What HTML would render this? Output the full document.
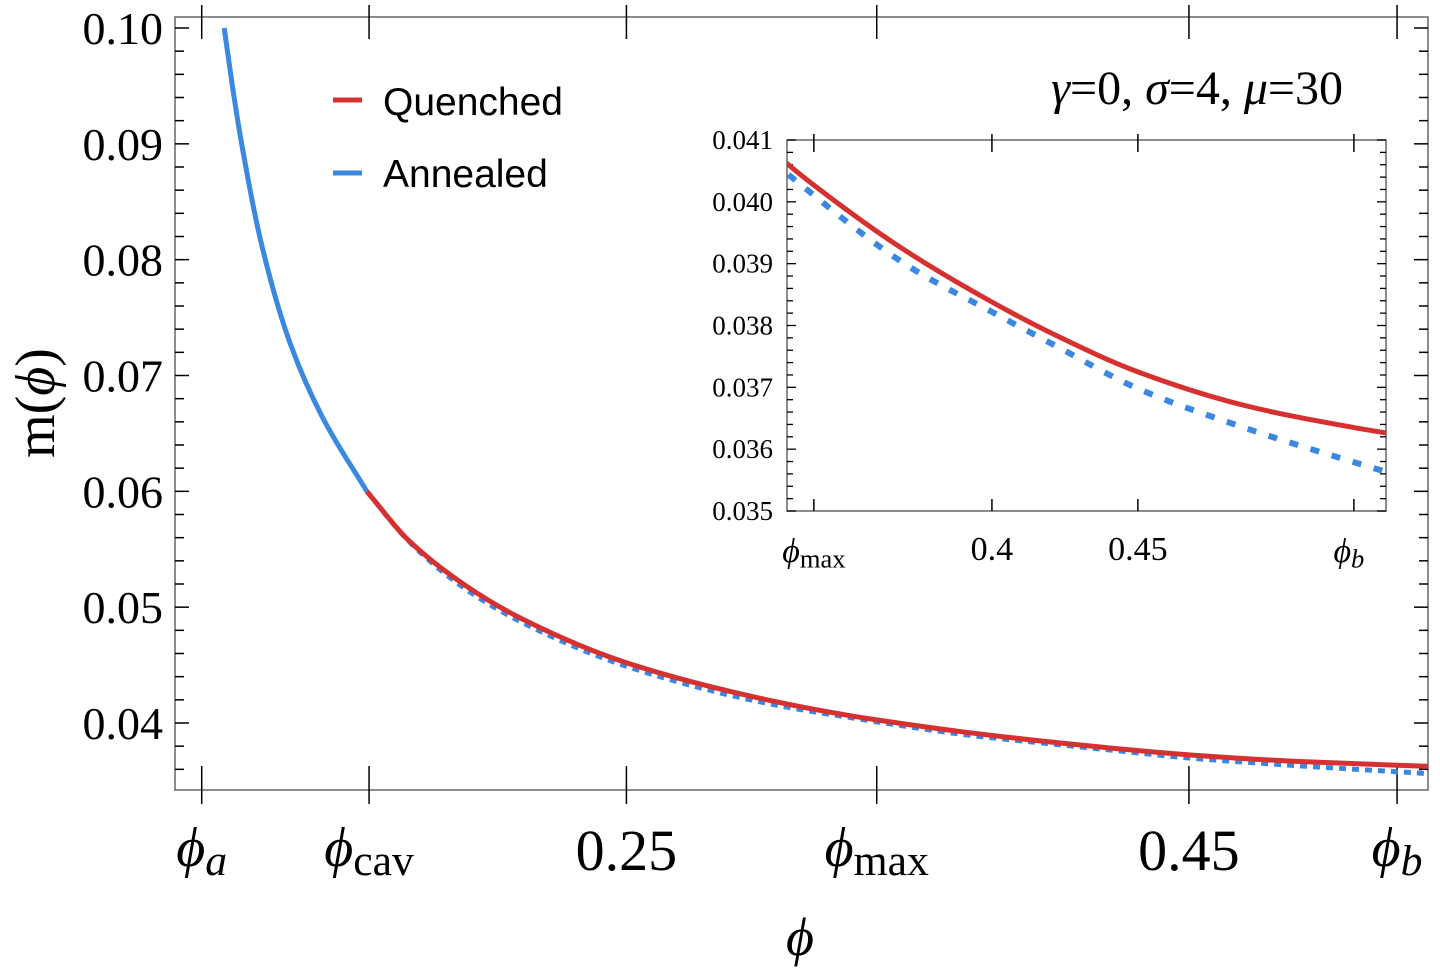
<!DOCTYPE html>
<html><head><meta charset="utf-8"><style>
html,body{margin:0;padding:0;background:#fff;width:1440px;height:978px;overflow:hidden}
svg text{font-family:"Liberation Serif",serif;fill:#000}
</style></head><body>
<svg id="chart" width="1440" height="978" viewBox="0 0 1440 978">
<defs>
<clipPath id="mainclip"><rect x="175" y="17" width="1253" height="773"/></clipPath>
<clipPath id="insetclip"><rect x="787" y="140" width="599" height="371"/></clipPath>
</defs>
<g id="main"></g>
<g id="inset"></g>
</svg>
<script>
// data
const quenchedPhi=[0.1577,0.1724,0.1926,0.2128,0.25,0.3,0.3298,0.339,0.3691,0.4,0.4215,0.45,0.4871,0.524,0.5353];
const quenchedM=[0.0600,0.0558,0.0519,0.0490,0.0452,0.0420,0.04062,0.04027,0.03925,0.03838,0.03785,0.03725,0.0367,0.03635,0.03626];
const annealedPhi=[0.107,0.1099,0.1132,0.1201,0.1304,0.1417,0.1577,0.1724,0.1926,0.2128,0.25,0.3,0.3337,0.3717,0.4,0.4215,0.45,0.4844,0.5303,0.5353];
const annealedM=[0.1000,0.0950,0.0900,0.0815,0.0728,0.0665,0.0600,0.05575,0.0516,0.0487,0.0449,0.0417,0.04031,0.03895,0.03822,0.03768,0.03698,0.03638,0.0357,0.03563];
const mainYTicks=[0.04,0.05,0.06,0.07,0.08,0.09,0.10];
const mainYLabels=["0.04","0.05","0.06","0.07","0.08","0.09","0.10"];
const mainXTicks=[0.099,0.1585,0.25,0.339,0.45,0.524];
const mainXLabels=["a","cav","0.25","max","0.45","b"];
const insetYTicks=[0.035,0.036,0.037,0.038,0.039,0.040,0.041];
const insetYLabels=["0.035","0.036","0.037","0.038","0.039","0.040","0.041"];
const insetXTicks=[0.339,0.4,0.45,0.524];
const insetXLabels=["max","0.4","0.45","b"];

const NS="http://www.w3.org/2000/svg";
function mk(parent,tag,attrs,txt){const e=document.createElementNS(NS,tag);for(const k in attrs)e.setAttribute(k,attrs[k]);if(txt!==undefined)e.textContent=txt;parent.appendChild(e);return e;}
function lin(d0,d1,r0,r1){return v=>r0+(v-d0)/(d1-d0)*(r1-r0);}
// monotone cubic (Fritsch-Carlson) rendering of data points
function pathD(xs,ys,sx,sy){
  const n=xs.length,h=[],d=[],m=new Array(n);
  for(let i=0;i<n-1;i++){h.push(xs[i+1]-xs[i]);d.push((ys[i+1]-ys[i])/h[i]);}
  m[0]=d[0];m[n-1]=d[n-2];
  for(let i=1;i<n-1;i++){
    if(d[i-1]*d[i]<=0)m[i]=0;
    else{const w1=2*h[i]+h[i-1],w2=h[i]+2*h[i-1];m[i]=(w1+w2)/(w1/d[i-1]+w2/d[i]);}
  }
  let s="M"+sx(xs[0]).toFixed(2)+","+sy(ys[0]).toFixed(2);
  for(let i=0;i<n-1;i++){
    const c1x=xs[i]+h[i]/3,c1y=ys[i]+m[i]*h[i]/3;
    const c2x=xs[i+1]-h[i]/3,c2y=ys[i+1]-m[i+1]*h[i]/3;
    s+=" C"+sx(c1x).toFixed(2)+","+sy(c1y).toFixed(2)+" "+sx(c2x).toFixed(2)+","+sy(c2y).toFixed(2)+" "+sx(xs[i+1]).toFixed(2)+","+sy(ys[i+1]).toFixed(2);
  }
  return s;
}
function phiLabel(g,x,y,sub,size,name){
  const t=mk(g,"text",{x:x,y:y,"text-anchor":"middle","font-size":size});
  
  
  mk(t,"tspan",{"font-style":"italic"},"\u03d5");
  const italic=(sub.length===1);
  mk(t,"tspan",{"font-size":size*0.78,dy:size*0.16,"font-style":italic?"italic":"normal"},sub);
  return t;
}

// MAIN
const main=document.getElementById("main");
const X0=175,X1=1428,Y0=17,Y1=790;
const sx=lin(0.0895,0.535,X0,X1);
const sy=lin(0.04,0.10,723,28);
mk(main,"rect",{x:X0,y:Y0,width:X1-X0,height:Y1-Y0,fill:"none",stroke:"#666","stroke-width":1.5});
for(let k=0;k<=32;k++){
  const v=0.036+k*0.002;const y=sy(v);const major=(k%5===2);
  const L=major?14:9;
  mk(main,"line",{x1:X0,x2:X0+L,y1:y,y2:y,stroke:"#000","stroke-width":1.5});
  mk(main,"line",{x1:X1,x2:X1-L,y1:y,y2:y,stroke:"#000","stroke-width":1.5});
}
mainYTicks.forEach((v,i)=>{
  const t=mk(main,"text",{x:163,y:sy(v)+16,"text-anchor":"end","font-size":46},mainYLabels[i]);
  
  
});
mainXTicks.forEach((v,i)=>{
  const x=sx(v);
  mk(main,"line",{x1:x,x2:x,y1:Y1+14,y2:Y1-24,stroke:"#000","stroke-width":1.5});
  mk(main,"line",{x1:x,x2:x,y1:Y0-12,y2:Y0+22,stroke:"#000","stroke-width":1.5});
  const lab=mainXLabels[i];
  if(lab[0]==="0"){const t=mk(main,"text",{x:x,y:870,"text-anchor":"middle","font-size":58},lab);}
  else phiLabel(main,x,866,lab,56,'x-tick-label');
});
let t=mk(main,"text",{x:800,y:955,"text-anchor":"middle","font-size":54,"font-style":"italic"},"\u03d5");

t=mk(main,"text",{x:0,y:0,"text-anchor":"middle","font-size":56,transform:"translate(54,403) rotate(-90)"});

mk(t,"tspan",{},"m(");mk(t,"tspan",{"font-style":"italic"},"\u03d5");mk(t,"tspan",{},")");
const cg=mk(main,"g",{"clip-path":"url(#mainclip)"});
const ci=annealedPhi.indexOf(0.1577);
let p=mk(cg,"path",{d:pathD(annealedPhi.slice(0,ci+1),annealedM.slice(0,ci+1),sx,sy),fill:"none",stroke:"#3a88e0","stroke-width":5});

p=mk(cg,"path",{d:pathD(annealedPhi.slice(ci),annealedM.slice(ci),sx,sy),fill:"none",stroke:"#3a88e0","stroke-width":5,"stroke-dasharray":"7 6"});

p=mk(cg,"path",{d:pathD(quenchedPhi,quenchedM,sx,sy),fill:"none",stroke:"#d63031","stroke-width":5});

// legend
const lg=mk(main,"g",{});

mk(lg,"line",{x1:333,x2:362,y1:100,y2:100,stroke:"#d63031","stroke-width":5});
mk(lg,"line",{x1:333,x2:362,y1:173,y2:173,stroke:"#3a88e0","stroke-width":5});
t=mk(lg,"text",{x:383,y:115,"font-size":39,style:"font-family:'Liberation Sans',sans-serif"},"Quenched");
t=mk(lg,"text",{x:383,y:187,"font-size":39,style:"font-family:'Liberation Sans',sans-serif"},"Annealed");
t=mk(main,"text",{x:1343,y:104,"text-anchor":"end","font-size":48});

mk(t,"tspan",{"font-style":"italic"},"\u03b3");mk(t,"tspan",{},"=0, ");mk(t,"tspan",{"font-style":"italic"},"\u03c3");mk(t,"tspan",{},"=4, ");mk(t,"tspan",{"font-style":"italic"},"\u03bc");mk(t,"tspan",{},"=30");

// INSET
const ins=document.getElementById("inset");
const IX0=787,IX1=1386,IY0=140,IY1=511;
const ix=lin(0.3298,0.535,IX0,IX1);
const iy=lin(0.035,0.041,IY1,IY0);
mk(ins,"rect",{x:IX0,y:IY0,width:IX1-IX0,height:IY1-IY0,fill:"#fff",stroke:"#666","stroke-width":1.5});
for(let k=0;k<=30;k++){
  const v=0.035+k*0.0002;const y=iy(v);const major=k%5===0;const L=major?9:6;
  mk(ins,"line",{x1:IX0,x2:IX0+L,y1:y,y2:y,stroke:"#000","stroke-width":1.3});
  mk(ins,"line",{x1:IX1,x2:IX1-L,y1:y,y2:y,stroke:"#000","stroke-width":1.3});
}
insetYTicks.forEach((v,i)=>{
  const t=mk(ins,"text",{x:773,y:iy(v)+9,"text-anchor":"end","font-size":27},insetYLabels[i]);
  
});
insetXTicks.forEach((v,i)=>{
  const x=ix(v);
  mk(ins,"line",{x1:x,x2:x,y1:IY1,y2:IY1-12,stroke:"#000","stroke-width":1.5});
  mk(ins,"line",{x1:x,x2:x,y1:IY0-6,y2:IY0+12,stroke:"#000","stroke-width":1.5});
  const lab=insetXLabels[i];
  if(lab[0]==="0"){const t=mk(ins,"text",{x:x,y:560,"text-anchor":"middle","font-size":34},lab);}
  else phiLabel(ins,x+(lab==="b"?-5:0),562,lab,34,'inset-x-tick-label');
});
const ig=mk(ins,"g",{"clip-path":"url(#insetclip)"});
p=mk(ig,"path",{d:pathD(annealedPhi.slice(ci),annealedM.slice(ci),ix,iy),fill:"none",stroke:"#3a88e0","stroke-width":6,"stroke-dasharray":"9 13"});

p=mk(ig,"path",{d:pathD(quenchedPhi,quenchedM,ix,iy),fill:"none",stroke:"#d63031","stroke-width":5});

</script>
</body></html>
